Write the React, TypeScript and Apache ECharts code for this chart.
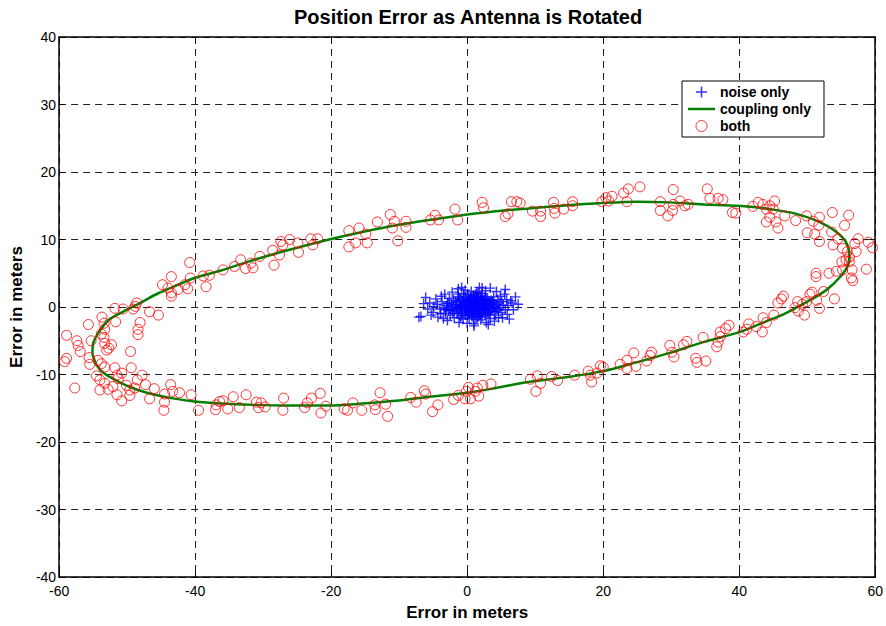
import React, { useEffect, useRef } from "react";
import * as echarts from "echarts";

const TITLE = "Position Error as Antenna is Rotated";
const X_LABEL = "Error in meters";
const Y_LABEL = "Error in meters";
const SERIES_NAMES = ["noise only", "coupling only", "both"];

// axis ranges: [min, max, step]
const X_AXIS = [-60, 60, 20];
const Y_AXIS = [-40, 40, 10];

// position fixes with receiver noise alone
const noiseOnly: number[][] = [
  [0.2, 0.4], [1.1, 0.8], [-0.6, 0.1], [2.0, 0.3], [0.8, -0.5], [1.6, 1.2], [-1.2, 0.7], [2.7, -0.2],
  [0.5, 1.5], [-0.3, -0.9], [1.9, -0.8], [3.1, 0.6], [-1.8, -0.3], [0.9, 0.2], [1.4, -0.1], [-0.9, 1.1],
  [2.4, 1.0], [0.0, -0.3], [3.5, -0.6], [-2.3, 0.4], [1.2, 1.9], [0.6, -1.2], [2.2, -1.4], [-1.5, -1.0],
  [3.8, 0.9], [-2.7, -0.6], [0.3, 0.9], [1.7, 0.5], [-0.4, 0.5], [2.9, 0.2], [1.0, -0.9], [-1.1, -0.2],
  [4.1, 0.1], [0.7, 1.2], [-3.0, 0.2], [1.5, -1.6], [2.6, 1.5], [-0.7, -0.5], [3.3, -1.1], [0.1, 1.8],
  [-2.0, 1.0], [4.4, -0.3], [1.3, 0.0], [-1.6, 0.3], [2.1, 0.7], [0.4, -0.7], [3.0, 1.3], [-0.2, 1.3],
  [1.8, -0.4], [-2.5, -1.2], [4.7, 0.6], [0.9, -1.5], [-3.4, -0.1], [2.3, -0.9], [1.6, 1.6], [-1.3, 1.5],
  [3.6, 0.4], [0.5, 0.0], [-0.8, -1.3], [2.8, -0.5], [1.1, 0.4], [-2.2, -0.5], [5.0, -0.8], [0.2, -1.1],
  [3.9, 1.5], [-3.7, 0.8], [1.4, 2.2], [2.5, 0.0], [-0.5, 2.0], [4.2, -1.2], [-1.0, 0.0], [1.9, 1.0],
  [0.7, -0.2], [3.2, 0.8], [-2.8, 0.6], [2.0, -1.9], [-0.1, 0.6], [1.0, 1.4], [4.5, 1.1], [-1.9, -1.6],
  [2.6, -1.2], [0.3, -1.7], [3.4, -1.7], [-3.2, -0.9], [1.7, -1.1], [5.3, 0.3], [-0.6, -1.8], [2.2, 2.0],
  [0.8, 0.6], [-4.0, -0.3], [3.7, -0.2], [1.2, -0.6], [-1.4, 1.9], [2.4, 0.4], [0.0, 0.2], [4.8, -0.1],
  [-2.6, 1.3], [1.5, 0.9], [0.6, 2.3], [3.0, -0.8],
  [0.4, 0.3], [1.3, 0.6], [-0.3, 0.2], [2.2, 0.1], [1.0, -0.3], [1.8, 0.9], [-0.9, 0.4], [2.5, -0.4],
  [0.6, 1.0], [-0.1, -0.6], [1.6, -0.6], [2.9, 0.5], [-1.5, -0.1], [1.1, 0.1], [0.3, -0.4], [-0.6, 0.9],
  [2.1, 1.2], [3.3, -0.3], [-2.0, 0.1], [1.4, 1.5], [0.8, -0.9], [2.0, -1.1], [-1.3, -0.7], [3.6, 0.7],
  [-2.4, -0.3], [0.1, 1.1], [1.9, 0.2], [-0.4, -0.2], [2.6, 0.8], [1.2, -1.2], [-0.8, -0.9], [3.9, -0.1],
  [0.9, 1.7], [-2.9, 0.5], [1.7, -1.4], [2.8, 1.1], [-0.2, -1.2], [3.1, -0.9], [0.5, 0.6], [4.3, 0.3],
  [-1.7, 0.8], [2.3, 0.5], [0.2, -0.8], [1.5, 0.3], [-1.1, 1.3], [3.5, 1.0], [0.7, -1.4], [4.0, -0.7],
  [-0.5, 1.6], [2.7, -0.9], [1.0, 0.9], [-3.1, -0.4], [2.4, -0.2], [0.0, 0.8], [1.6, 2.0], [-2.1, -0.9],
  [3.2, 0.1], [0.4, 1.3], [-1.0, -1.6], [4.6, -0.5], [1.3, -1.8], [2.0, 1.6], [-0.7, 0.3], [5.1, 0.8],
  [-6.8, -1.4], [-6.1, 1.4], [-7.1, -1.5], [-5.5, 0.6], [-5.0, -0.8], [-4.6, 1.2], [-4.3, -1.5], [-5.8, -0.3],
  [-4.9, 0.1], [5.6, 2.6], [7.1, 1.5], [6.4, 0.9], [5.9, -1.1], [6.8, -0.4], [7.5, 0.4], [6.2, -1.8],
  [5.5, 1.9], [3.4, 2.8], [2.2, 2.8], [-1.3, 2.7], [-0.3, 2.5], [1.0, -2.8], [1.0, -2.5], [2.8, -2.3],
  [-1.2, -2.3], [4.0, -2.1], [-2.9, -2.0], [0.0, -2.4], [4.3, 2.3], [-2.2, 2.2], [1.8, 2.9], [5.2, -1.6],
  [-3.8, 1.6], [6.0, 0.2], [-6.4, 0.5], [3.1, -2.6], [-0.8, 2.9], [2.7, 2.4], [-3.5, -1.7], [5.8, 1.1],
  [-4.4, 0.4], [-3.9, -1.0], [4.9, 1.6], [5.6, -0.4], [-5.3, -1.2], [6.6, 0.6], [-3.3, 1.9], [4.6, -1.6],
];

// error trace from antenna coupling alone, one full turn
const couplingOnly: number[][] = [
  [-55.1, -6.9], [-55.0, -5.4], [-54.2, -3.8], [-52.8, -2.0], [-50.8, -0.8], [-47.9, 0.7], [-45.5, 2.0],
  [-42.5, 3.3], [-40.1, 4.3], [-36.2, 5.4], [-31.3, 7.0], [-26.4, 8.4], [-20.3, 10.0], [-15.4, 11.1],
  [-10.5, 12.1], [-5.6, 12.9], [0.0, 13.7], [4.2, 14.2], [9.0, 14.6], [13.9, 15.0], [20.0, 15.4],
  [24.9, 15.6], [29.8, 15.5], [34.7, 15.2], [39.8, 15.0], [44.5, 14.5], [48.4, 13.8], [51.8, 12.6],
  [54.3, 11.1], [55.7, 9.6], [56.2, 7.7], [56.0, 6.2], [54.8, 4.4], [52.8, 2.5], [49.7, 0.6],
  [46.5, -1.1], [44.5, -1.9], [39.8, -3.8], [34.7, -5.2], [29.8, -6.8], [24.9, -8.2], [20.0, -9.5],
  [13.9, -10.5], [9.0, -11.1], [4.2, -12.0], [0.0, -12.7], [-5.6, -13.3], [-10.5, -13.9], [-15.4, -14.3],
  [-20.3, -14.6], [-26.4, -14.6], [-31.3, -14.5], [-36.2, -14.3], [-40.1, -14.0], [-43.5, -13.5],
  [-45.9, -13.0], [-48.4, -12.3], [-50.8, -11.3], [-53.3, -9.9], [-54.5, -8.6], [-55.1, -6.9],
];

// fixes with both noise and coupling present
const both: number[][] = [
  [-40.8, 6.6], [-43.5, 4.5], [-44.8, 3.3], [-44.0, 2.8], [-43.5, 2.1], [-42.5, 2.6], [-41.5, 3.3], [-41.1, 2.7],
  [-40.7, 4.3], [-38.8, 4.6], [-37.9, 4.7], [-38.4, 3.0], [-35.9, 5.5], [-34.2, 6.0], [-33.3, 7.0], [-32.6, 5.7],
  [-31.8, 6.5], [-31.5, 5.8], [-30.5, 7.5], [-28.6, 8.4], [-28.4, 6.2], [-27.6, 7.7], [-27.4, 9.7], [-27.1, 9.2],
  [-26.1, 10.0], [-24.9, 9.5], [-24.8, 8.1], [-23.0, 10.1], [-22.7, 9.2], [-22.0, 10.1], [-48.6, 0.6], [-48.8, 0.1],
  [-49.1, -0.3], [-51.8, -0.2], [-50.6, -0.3], [-46.7, -0.7], [-45.4, -1.2], [-53.7, -1.5], [-43.5, 1.6],
  [-53.4, -2.4], [-51.7, -2.2], [-55.7, -2.6], [-48.1, -2.3], [-53.3, -3.3], [-48.4, -3.3], [-48.4, -4.1],
  [-58.9, -4.2], [-55.3, -5.0], [-53.4, -4.5], [-57.4, -5.0], [-57.2, -5.7], [-56.9, -6.6], [-53.3, -5.4],
  [-52.7, -6.1], [-53.0, -6.4], [-49.5, -6.6], [-55.6, -7.5], [-54.3, -7.9], [-58.9, -7.6], [-59.2, -8.1],
  [-55.5, -8.5], [-53.8, -8.4], [-53.3, -8.9], [-51.8, -9.0], [-49.4, -9.0], [-54.5, -10.2], [-54.0, -10.8],
  [-51.5, -10.1], [-50.8, -9.8], [-51.3, -10.6], [-47.8, -10.1], [-48.5, -10.8], [-53.3, -11.3], [-54.0, -12.3],
  [-52.8, -12.2], [-52.1, -11.8], [-57.7, -12.0], [-50.1, -11.6], [-49.6, -12.3], [-48.9, -12.0], [-47.3, -11.5],
  [-51.5, -13.0], [-49.6, -13.1], [-50.8, -13.9], [-46.0, -12.1], [-46.7, -13.6], [-44.5, -12.9], [-43.6, -11.5],
  [-43.3, -12.5], [-42.3, -12.7], [-44.5, -14.1], [-44.6, -15.3], [-40.6, -13.0], [-39.5, -15.3], [-36.9, -14.5],
  [-37.0, -15.2], [-36.4, -14.0], [-35.9, -13.9], [-35.2, -15.1], [-34.4, -13.3], [-33.5, -14.9], [-32.5, -13.0],
  [-31.0, -14.1], [-30.7, -14.9], [-30.3, -14.2], [-29.7, -14.8], [-27.0, -13.5], [-27.1, -15.3], [-23.9, -14.9],
  [-23.5, -14.2], [-22.9, -13.5], [-21.6, -12.8], [-21.5, -15.7], [-20.8, -14.7], [-53.8, -4.0], [-52.3, -5.6],
  [-17.4, 11.3], [-15.9, 11.7], [-14.9, 10.8], [-16.4, 9.5], [-17.4, 8.9], [-14.7, 9.5], [-13.2, 12.6], [-11.3, 13.7],
  [-10.7, 12.7], [-11.0, 11.7], [-9.0, 12.7], [-9.0, 11.8], [-10.2, 9.8], [-5.4, 12.9], [-4.7, 13.6], [-4.2, 12.9],
  [-1.8, 14.5], [-1.4, 12.9], [2.2, 15.5], [2.4, 14.7], [5.6, 13.4], [6.0, 13.8], [6.5, 15.6], [7.3, 15.6],
  [7.8, 15.4], [9.6, 14.2], [10.8, 14.2], [10.8, 13.4], [12.7, 15.5], [12.8, 14.6], [12.9, 13.9], [14.2, 14.5],
  [15.5, 15.6], [15.5, 15.0], [19.8, 15.6],
  [20.8, 15.7], [21.3, 16.4], [23.0, 16.9], [23.7, 17.5], [25.4, 17.8], [23.5, 15.6], [28.4, 15.6], [28.4, 14.3],
  [29.5, 13.5], [30.3, 17.4], [30.3, 15.2], [30.2, 14.3], [31.3, 15.7], [32.0, 15.0], [32.5, 15.2], [35.3, 17.5],
  [35.7, 16.1], [36.9, 16.1], [37.6, 15.9], [39.0, 14.0], [39.5, 13.9], [42.0, 14.9], [42.8, 15.5], [43.5, 15.2],
  [44.0, 14.5], [44.5, 15.0], [45.2, 15.7], [45.0, 14.5], [44.5, 13.3], [44.0, 12.6], [45.7, 11.7], [46.7, 13.5],
  [48.3, 12.8], [49.9, 13.5], [50.0, 11.0], [50.9, 12.7], [51.1, 10.8], [51.7, 12.1], [51.8, 13.3], [51.8, 9.7],
  [53.7, 14.0], [53.6, 11.1], [53.8, 9.2], [54.5, 10.1], [55.5, 12.1], [56.1, 13.6], [55.2, 8.7], [55.9, 8.2],
  [56.2, 7.4], [55.7, 7.0], [56.2, 6.7], [55.1, 6.7], [57.0, 9.4], [57.5, 10.1], [57.2, 8.2], [59.0, 9.6],
  [59.6, 8.8], [58.7, 5.6], [56.6, 5.5], [56.5, 4.3], [56.7, 3.9], [55.2, 5.5], [54.3, 5.3], [51.3, 5.0],
  [53.2, 5.0], [54.0, 1.2], [52.4, 2.3], [50.7, 2.2], [50.4, 1.9], [51.8, -0.2], [49.9, 0.8], [48.6, 0.8],
  [46.5, 1.6], [46.2, 1.2], [45.7, 0.6], [49.3, 0.4], [48.2, -0.1], [45.4, 12.6], [20.4, 16.2], [51.3, 4.5],
  [20.0, -8.9], [22.5, -8.5], [23.5, -7.9], [23.5, -9.1], [24.5, -6.8], [24.8, -8.8], [26.4, -8.0], [26.9, -7.2],
  [27.1, -6.7], [29.8, -5.7], [30.1, -6.7], [30.4, -7.4], [31.8, -5.6], [32.3, -5.1], [33.6, -7.6], [33.8, -8.2],
  [35.1, -8.0], [34.7, -4.5], [36.7, -5.9], [36.9, -5.2], [37.2, -4.4], [37.2, -3.7], [38.0, -3.2], [38.5, -2.7],
  [40.6, -3.7], [41.1, -3.3], [41.4, -2.5], [42.5, -2.9], [43.4, -3.7], [43.5, -1.6], [44.0, -2.3], [45.1, -1.2],
  [48.7, -0.6], [49.6, -1.2], [51.4, 1.0],
  [-18.1, -15.1], [-17.6, -15.3], [-16.8, -14.2], [-15.5, -15.3], [-13.6, -14.5], [-13.5, -15.2], [-12.8, -12.7],
  [-12.0, -14.4], [-11.7, -16.2], [-8.3, -13.4], [-7.5, -14.1], [-6.3, -12.4], [-6.1, -12.9], [-5.1, -15.5],
  [-4.3, -14.5], [-2.0, -13.7], [-1.3, -13.1], [-0.3, -13.6], [-0.1, -12.5], [0.2, -11.9], [0.5, -13.6],
  [1.2, -12.5], [1.5, -12.0], [1.7, -13.2], [2.3, -11.6], [3.5, -11.4], [9.3, -10.7], [10.3, -10.2],
  [10.1, -12.5], [10.8, -11.3], [12.4, -10.3], [13.3, -10.9], [15.8, -10.1], [17.8, -9.5], [18.1, -10.1],
  [18.3, -11.1], [19.1, -9.8], [19.6, -8.7],
];

const FONT = "'Liberation Sans', Arial, Helvetica, sans-serif";
// plus-shaped marker (outline of a thin cross)
const PLUS = "path://M4.3,0H5.7V4.3H10V5.7H5.7V10H4.3V5.7H0V4.3H4.3Z";
// short horizontal bar used as the line's legend key
const BAR = "path://M0,0H27V2.5H0Z";

export default function App() {
  const ref = useRef<HTMLDivElement>(null);

  useEffect(() => {
    if (!ref.current) return;
    const chart = echarts.init(ref.current, undefined, { renderer: "svg" });

    const axisLine = { show: true, onZero: false, lineStyle: { color: "#000", width: 1.5 } };
    const tick = { show: true, inside: true, length: 5, lineStyle: { color: "#000", width: 1 } };
    const grid = { show: true, lineStyle: { color: "#222", width: 1, type: [7, 5] } };

    chart.setOption({
      animation: false,
      backgroundColor: "#fff",
      title: {
        text: TITLE,
        left: 294,
        top: 7,
        padding: 0,
        textStyle: { fontFamily: FONT, fontSize: 20, fontWeight: "bold", color: "#000" },
      },
      grid: { left: 59, top: 37, width: 818, height: 548, containLabel: false },
      legend: {
        orient: "vertical",
        left: 682,
        top: 81,
        backgroundColor: "#fff",
        borderColor: "#000",
        borderWidth: 1,
        borderRadius: 0,
        padding: [4, 13, 4, 6],
        itemGap: 3,
        itemWidth: 27,
        itemHeight: 11,
        selectedMode: false,
        textStyle: { fontFamily: FONT, fontSize: 14, fontWeight: "bold", color: "#000" },
        data: [
          { name: SERIES_NAMES[0], icon: PLUS },
          { name: SERIES_NAMES[1], icon: BAR },
          { name: SERIES_NAMES[2], icon: "circle", itemStyle: { borderWidth: 1 } },
        ],
      },
      xAxis: [
        {
          type: "value",
          min: X_AXIS[0],
          max: X_AXIS[1],
          interval: X_AXIS[2],
          position: "bottom",
          name: X_LABEL,
          nameLocation: "middle",
          nameGap: 27,
          nameTextStyle: { fontFamily: FONT, fontSize: 17, fontWeight: "bold", color: "#000" },
          axisLine,
          axisTick: tick,
          splitLine: grid,
          axisLabel: { fontFamily: FONT, fontSize: 14, color: "#000", margin: 7 },
        },
        {
          type: "value",
          min: X_AXIS[0],
          max: X_AXIS[1],
          interval: X_AXIS[2],
          position: "top",
          axisLine,
          axisTick: tick,
          splitLine: { show: false },
          axisLabel: { show: false },
        },
      ],
      yAxis: [
        {
          type: "value",
          min: Y_AXIS[0],
          max: Y_AXIS[1],
          interval: Y_AXIS[2],
          position: "left",
          name: Y_LABEL,
          nameLocation: "middle",
          nameGap: 32,
          nameTextStyle: { fontFamily: FONT, fontSize: 17, fontWeight: "bold", color: "#000" },
          axisLine,
          axisTick: tick,
          splitLine: grid,
          axisLabel: { fontFamily: FONT, fontSize: 14, color: "#000", margin: 3 },
        },
        {
          type: "value",
          min: Y_AXIS[0],
          max: Y_AXIS[1],
          interval: Y_AXIS[2],
          position: "right",
          axisLine,
          axisTick: tick,
          splitLine: { show: false },
          axisLabel: { show: false },
        },
      ],
      series: [
        {
          name: SERIES_NAMES[0],
          type: "scatter",
          data: noiseOnly,
          symbol: PLUS,
          symbolSize: 10,
          itemStyle: { color: "#0000ff" },
          silent: true,
          z: 2,
        },
        {
          name: SERIES_NAMES[1],
          type: "line",
          data: couplingOnly,
          showSymbol: false,
          symbol: "none",
          smooth: 0.3,
          lineStyle: { color: "#008000", width: 2.5 },
          itemStyle: { color: "#008000" },
          silent: true,
          z: 3,
        },
        {
          name: SERIES_NAMES[2],
          type: "scatter",
          data: both,
          symbol: "circle",
          symbolSize: 10,
          itemStyle: { color: "rgba(255,255,255,0)", borderColor: "#ff0000", borderWidth: 1 },
          silent: true,
          z: 4,
        },
      ],
    });

    return () => chart.dispose();
  }, []);

  return (
    <div
      ref={ref}
      style={{ position: "absolute", left: 0, top: 0, width: 886, height: 626 }}
    />
  );
}
